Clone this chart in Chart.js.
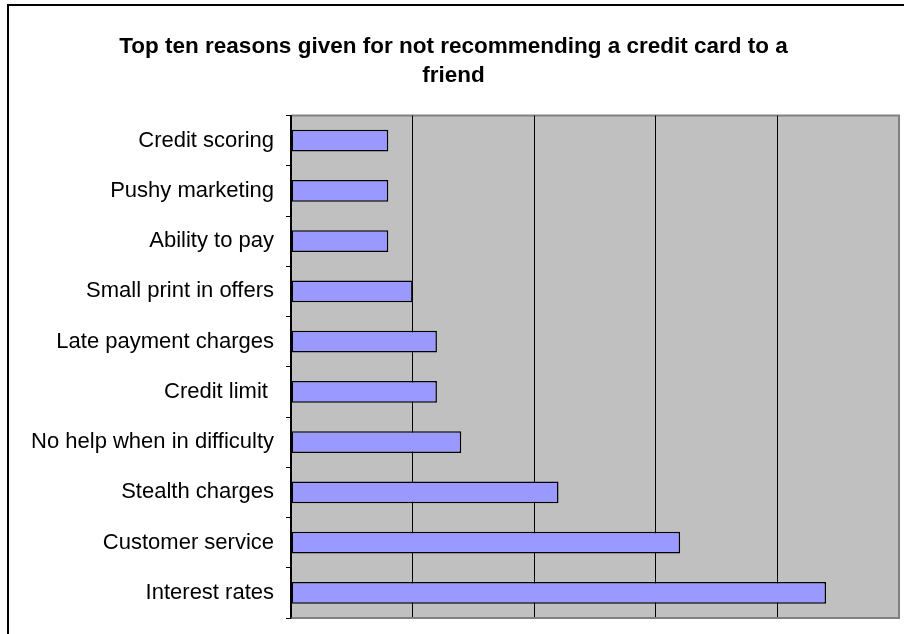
<!DOCTYPE html>
<html>
<head>
<meta charset="utf-8">
<script src="https://cdn.jsdelivr.net/npm/chart.js@4.4.1/dist/chart.umd.min.js"></script>
<style>
  html, body { margin: 0; padding: 0; background: #ffffff; }
  #wrap { width: 904px; height: 634px; position: relative; }
</style>
</head>
<body>
<div id="wrap"><canvas id="chart" width="904" height="634"></canvas></div>
<script>
// Reasons, listed top to bottom as they appear on the axis
const reasons = [
  'Credit scoring',
  'Pushy marketing',
  'Ability to pay',
  'Small print in offers',
  'Late payment charges',
  'Credit limit ',
  'No help when in difficulty',
  'Stealth charges',
  'Customer service',
  'Interest rates'
];
// Share of respondents giving each reason
const shares = [4, 4, 4, 5, 6, 6, 7, 11, 16, 22];
// Value axis range
const axisMin = 0;
const axisMax = 25;
const axisStep = 5;

const titleLines = ['Top ten reasons given for not recommending a credit card to a', 'friend'];
const FONT = "'Liberation Sans', Arial, Helvetica, sans-serif";

// Frame around the whole chart and grey plot background
const framePlugin = {
  id: 'frame',
  beforeDraw(chart) {
    const { ctx, chartArea: a } = chart;
    ctx.save();
    ctx.fillStyle = '#ffffff';
    ctx.fillRect(0, 0, chart.width, chart.height);
    ctx.strokeStyle = '#000000';
    ctx.lineWidth = 2;
    ctx.strokeRect(8, 5, chart.width + 20, chart.height + 20);
    ctx.fillStyle = '#C0C0C0';
    ctx.fillRect(a.left, a.top, a.right - a.left, a.bottom - a.top);
    ctx.strokeStyle = '#808080';
    ctx.lineWidth = 2;
    ctx.beginPath();
    ctx.moveTo(a.left, a.top);
    ctx.lineTo(a.right, a.top);
    ctx.lineTo(a.right, a.bottom);
    ctx.stroke();
    ctx.restore();
  }
};

new Chart(document.getElementById('chart'), {
  type: 'bar',
  data: {
    labels: reasons,
    datasets: [{
      data: shares,
      backgroundColor: '#9999FF',
      borderColor: '#000000',
      borderWidth: 1.5,
      borderSkipped: false,
      barPercentage: 0.43,
      categoryPercentage: 1
    }]
  },
  options: {
    indexAxis: 'y',
    responsive: false,
    animation: false,
    devicePixelRatio: 1,
    layout: { padding: { left: 8, right: 5, top: 0, bottom: 16 } },
    plugins: {
      legend: { display: false },
      tooltip: { enabled: false },
      title: {
        display: true,
        text: titleLines,
        color: '#000000',
        font: { family: FONT, size: 22.5, weight: 'bold', lineHeight: 1.3 },
        padding: { top: 32, bottom: 25 }
      }
    },
    scales: {
      x: {
        min: axisMin,
        max: axisMax,
        ticks: { display: false, stepSize: axisStep },
        grid: {
          drawTicks: false,
          color: (c) => (c.tick && c.tick.value === axisMax) ? '#808080' : '#000000',
          lineWidth: (c) => (c.tick && c.tick.value === axisMax) ? 2 : 1
        },
        border: { display: true, color: '#808080', width: 2 },
        afterFit(scale) { scale.height = 0; }
      },
      y: {
        ticks: {
          color: '#000000',
          font: { family: FONT, size: 22 },
          padding: 12,
          autoSkip: false
        },
        grid: {
          drawOnChartArea: false,
          drawTicks: true,
          tickLength: 5,
          color: '#000000'
        },
        border: { display: true, color: '#000000', width: 1.5 },
        afterFit(scale) {
          scale.width = 283;
          scale.paddingTop = 0;
          scale.paddingBottom = 0;
        }
      }
    }
  },
  plugins: [framePlugin]
});
</script>
</body>
</html>
